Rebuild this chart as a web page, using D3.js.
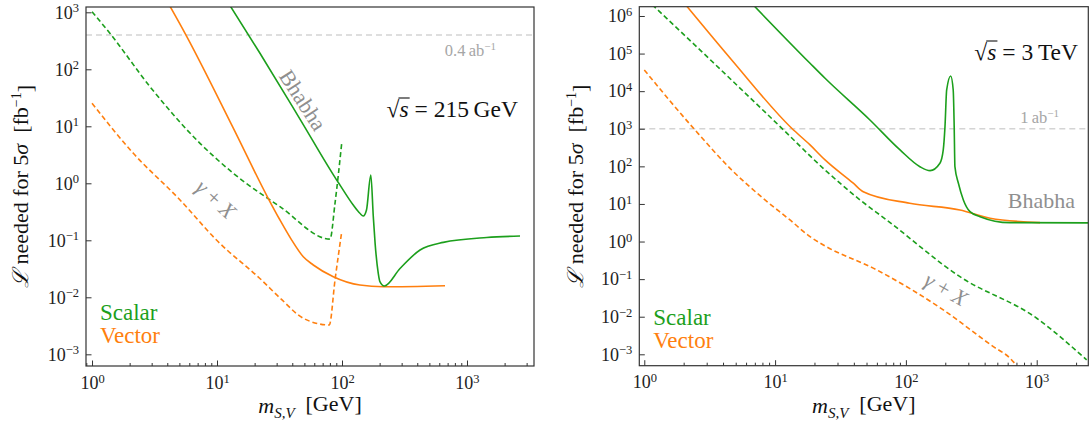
<!DOCTYPE html>
<html>
<head>
<meta charset="utf-8">
<script src="https://cdn.jsdelivr.net/npm/d3@7"></script>
<style>
  body { margin: 0; background: #fff; }
  svg text { font-family: "Liberation Serif", "DejaVu Serif", serif; }
</style>
</head>
<body>
<svg id="chart" width="1091" height="438"></svg>
<script>
// --- data: [mass in GeV, luminosity in fb^-1] ---

// sqrt(s) = 215 GeV
const scalarBhabha215 = [[12.0,1600],[22,193],[46.1,13.4],[90.7,1.14],[96.4,0.93],[123,0.416],[139,0.298],[148,0.267],
  [157,0.34],[170,1.40],[178,0.26],[184,0.0885],[195,0.0264],[201,0.0188],[218,0.0158],[291,0.032],[421,0.0676],
  [646,0.092],[1438,0.112],[2655,0.119]];
const scalarGamma215 = [[1.0,1025],[1.39,428],[2.91,49.5],[7.31,5.03],[13.5,1.5],[31.9,0.389],[80.2,0.105],
  [87.9,0.446],[99.5,5.1]];
const vectorBhabha215 = [[4.0,1550],[5.55,428],[13.5,9.3],[25.6,0.552],[31.9,0.227],[39.6,0.101],[49,0.0515],
  [58.9,0.0369],[85.2,0.023],[139,0.0164],[214,0.0153],[667,0.016]];
const vectorGamma215 = [[1.0,25.4],[2.14,3.36],[5.06,0.51],[9.95,0.10],[22.5,0.0205],[32.3,0.0095],[49,0.00429],
  [79.1,0.00327],[87.9,0.0201],[99.5,0.142]];

// sqrt(s) = 3 TeV
const scalarBhabha3 = [[6.3,2.6e6],[18.5,55200],[24.1,22000],[53.1,1714],[90.2,273],[128,98],[153,77],[182,121],
  [193,273],[199,1138],[205,10770],[220,25350],[230,10770],[234,1138],[237,98],[252,35.5],[275,12.8],[309,6.24],
  [369,4.59],[625,3.18],[2466,3.13]];
const scalarGamma3 = [[1.15,2.0e6],[3.27,63500],[10.6,1262],[24.1,80],[44.6,12.8],[71.3,3.75],
  [259,0.116],[1000,0.0091],[2410,0.00071]];
const vectorBhabha3 = [[2.0,2.3e6],[4.66,67600],[13.4,1030],[18.5,371],[24.1,148],[39.6,35.6],[47.2,21.2],
  [107,10.4],[259,6.9],[440,4.17],[1060,3.18]];
const vectorGamma3 = [[1.0,36600],[2.44,929],[4.66,80],[8.37,12.8],[13,3.75],[18.5,1.35],[23.4,0.81],[59.8,0.176],
  [193,0.0152],[466,0.0016],[625,0.00079],[703,0.0005]];

const yExp215 = [-3, -2, -1, 0, 1, 2, 3];
const yExp3 = [-3, -2, -1, 0, 1, 2, 3, 4, 5, 6];
const xExp = [0, 1, 2, 3];
const lumi215 = 400, lumi3 = 1000;

const GREEN = "#1c9f1c", ORANGE = "#ff7f0e", GRAY = "#8f8f8f", AXIS = "#333";

const panels = [
  { x0: 86, x1: 534, y0: 7, y1: 366, xDom: [0.895, 3436], yDom: [Math.pow(10,-3.205), Math.pow(10,3.093)],
    yExp: yExp215, lumi: lumi215, lumiText: ["0.4", "ab"], lumiX: 496, lumiDy: 21,
    energy: ["215", "GeV"], energyX: 518, energyY: 117,
    bhabha: { x: 303, y: 100, rot: 57, anchor: "middle" }, gamma: { x: 216, y: 199, rot: 43 },
    legendY: 320, ylabX: 21,
    series: [
      { d: scalarGamma215, c: GREEN, dash: "5,3" },
      { d: vectorGamma215, c: ORANGE, dash: "5,3" },
      { d: vectorBhabha215, c: ORANGE },
      { d: scalarBhabha215, c: GREEN } ] },
  { x0: 639.3, x1: 1088.3, y0: 6.7, y1: 365.7, xDom: [0.916, 2480], yDom: [Math.pow(10,-3.303), Math.pow(10,6.247)],
    yExp: yExp3, lumi: lumi3, lumiText: ["1", "ab"], lumiX: 1059, lumiDy: -6,
    energy: ["3", "TeV"], energyX: 1078, energyY: 60,
    bhabha: { x: 1075, y: 208, rot: 0, anchor: "end" }, gamma: { x: 946, y: 289, rot: 30 },
    legendY: 325, ylabX: 576,
    series: [
      { d: scalarGamma3, c: GREEN, dash: "5,3" },
      { d: vectorGamma3, c: ORANGE, dash: "5,3" },
      { d: vectorBhabha3, c: ORANGE },
      { d: scalarBhabha3, c: GREEN } ] }
];

const svg = d3.select("#chart");

function powLabel(sel, exp) {
  sel.text(null);
  sel.append("tspan").text("10");
  sel.append("tspan").attr("dy", "-0.5em").attr("font-size", "12.5px")
    .text(exp < 0 ? "\u2212" + (-exp) : exp);
}

panels.forEach((p, i) => {
  const x = d3.scaleLog().domain(p.xDom).range([p.x0, p.x1]);
  const y = d3.scaleLog().domain(p.yDom).range([p.y1, p.y0]);
  const g = svg.append("g");

  g.append("clipPath").attr("id", "clip" + i).append("rect")
    .attr("x", p.x0).attr("y", p.y0).attr("width", p.x1 - p.x0).attr("height", p.y1 - p.y0);

  // luminosity reference line
  g.append("line")
    .attr("x1", p.x0).attr("x2", p.x1).attr("y1", y(p.lumi)).attr("y2", y(p.lumi))
    .attr("stroke", "#d4d4d4").attr("stroke-width", 1.3).attr("stroke-dasharray", "6,4");
  const lt = g.append("text").attr("x", p.lumiX).attr("y", y(p.lumi) + p.lumiDy)
    .attr("text-anchor", "end").attr("font-size", 16.5).attr("fill", "#a6a6a6");
  lt.append("tspan").text(p.lumiText[0] + "\u2009" + p.lumiText[1]);
  lt.append("tspan").attr("dy", "-0.5em").attr("font-size", "11px").text("\u22121");

  // curves
  const line = d3.line().x(d => x(d[0])).y(d => y(d[1])).curve(d3.curveMonotoneX);
  const cg = g.append("g").attr("clip-path", "url(#clip" + i + ")");
  p.series.forEach(s => {
    cg.append("path").datum(s.d).attr("d", line)
      .attr("fill", "none").attr("stroke", s.c).attr("stroke-width", 1.6)
      .attr("stroke-dasharray", s.dash || null).attr("stroke-linejoin", "round");
  });

  // axes with inward ticks
  const xMajor = xExp.map(e => Math.pow(10, e)).filter(v => v >= p.xDom[0] && v <= p.xDom[1]);
  const xMinor = [];
  d3.range(-1, 4).forEach(e => d3.range(2, 10).forEach(k => {
    const v = k * Math.pow(10, e);
    if (v >= p.xDom[0] && v <= p.xDom[1]) xMinor.push(v);
  }));

  g.append("g").attr("transform", `translate(0,${p.y1})`).attr("color", AXIS)
    .call(d3.axisBottom(x).tickValues(xMinor).tickSize(-3).tickFormat(""))
    .call(a => a.select(".domain").remove());
  const xa = g.append("g").attr("transform", `translate(0,${p.y1})`).attr("color", AXIS)
    .call(d3.axisBottom(x).tickValues(xMajor).tickSize(-5.5).tickPadding(10))
    .call(a => a.select(".domain").remove());
  xa.selectAll(".tick text").attr("font-family", "Liberation Serif").attr("font-size", 18).attr("fill", "#222")
    .each(function(d) { powLabel(d3.select(this), Math.round(Math.log10(d))); });

  const ya = g.append("g").attr("transform", `translate(${p.x0},0)`).attr("color", AXIS)
    .call(d3.axisLeft(y).tickValues(p.yExp.map(e => Math.pow(10, e))).tickSize(-5.5).tickPadding(7))
    .call(a => a.select(".domain").remove());
  ya.selectAll(".tick text").attr("font-family", "Liberation Serif").attr("font-size", 18).attr("fill", "#222")
    .each(function(d) { powLabel(d3.select(this), Math.round(Math.log10(d))); });
  ya.selectAll(".tick line").attr("stroke-width", 1);
  xa.selectAll(".tick line").attr("stroke-width", 1);

  // frame
  g.append("rect").attr("x", p.x0).attr("y", p.y0).attr("width", p.x1 - p.x0).attr("height", p.y1 - p.y0)
    .attr("fill", "none").attr("stroke", AXIS).attr("stroke-width", 1.2);

  // axis labels
  const xl = g.append("text").attr("x", (p.x0 + p.x1) / 2).attr("y", 413)
    .attr("text-anchor", "middle").attr("font-size", 22).attr("fill", "#111");
  xl.append("tspan").attr("font-style", "italic").text("m");
  xl.append("tspan").attr("font-style", "italic").attr("font-size", "15px").attr("dy", "0.3em").text("S,V");
  xl.append("tspan").attr("dy", "-0.3em").text("\u2002[GeV]");

  const yl = g.append("text")
    .attr("transform", `translate(${p.ylabX},${(p.y0 + p.y1) / 2}) rotate(-90)`)
    .attr("text-anchor", "middle").attr("dy", "0.32em").attr("font-size", 22).attr("fill", "#111");
  yl.append("tspan").attr("font-style", "italic").text("\u2112");
  yl.append("tspan").text(" needed for 5");
  yl.append("tspan").attr("font-style", "italic").text("\u03c3");
  yl.append("tspan").text("\u2002[fb");
  yl.append("tspan").attr("dy", "-0.5em").attr("font-size", "14px").text("\u22121");
  yl.append("tspan").attr("dy", "0.5em").text("]");

  // energy label with a radical bar over s
  const et = g.append("text").attr("x", p.energyX).attr("y", p.energyY)
    .attr("text-anchor", "end").attr("font-size", 23.5).attr("fill", "#111");
  et.append("tspan").text("\u221a");
  et.append("tspan").attr("font-style", "italic").text("s");
  et.append("tspan").text(" = " + p.energy[0] + "\u2009" + p.energy[1]);
  const node = et.node();
  const rEnd = node.getEndPositionOfChar(0).x;
  const sEnd = node.getEndPositionOfChar(1).x;
  g.append("line").attr("x1", rEnd - 1).attr("x2", sEnd + 1)
    .attr("y1", p.energyY - 19).attr("y2", p.energyY - 19)
    .attr("stroke", "#111").attr("stroke-width", 1.1);

  // channel annotations
  g.append("text").attr("text-anchor", p.bhabha.anchor).attr("font-size", 22).attr("fill", GRAY)
    .attr("transform", `translate(${p.bhabha.x},${p.bhabha.y}) rotate(${p.bhabha.rot})`)
    .attr("dy", p.bhabha.rot ? "0.35em" : 0).text("Bhabha");
  const gt = g.append("text").attr("text-anchor", "middle").attr("font-size", 22).attr("fill", GRAY)
    .attr("dy", "0.35em")
    .attr("transform", `translate(${p.gamma.x},${p.gamma.y}) rotate(${p.gamma.rot})`);
  gt.append("tspan").attr("font-style", "italic").text("\u03b3");
  gt.append("tspan").text(" + ");
  gt.append("tspan").attr("font-style", "italic").text("X");

  // legend
  g.append("text").attr("x", p.x0 + 14).attr("y", p.legendY).attr("font-size", 23).attr("fill", GREEN).text("Scalar");
  g.append("text").attr("x", p.x0 + 14).attr("y", p.legendY + 23).attr("font-size", 23).attr("fill", ORANGE).text("Vector");
});
</script>
</body>
</html>
